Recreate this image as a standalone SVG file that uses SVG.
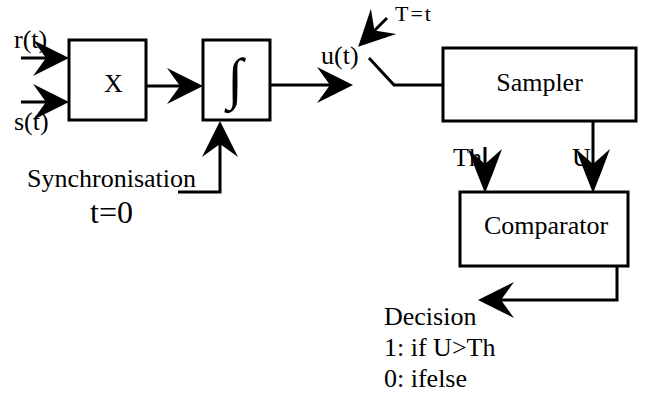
<svg xmlns="http://www.w3.org/2000/svg" width="649" height="397" viewBox="0 0 649 397">
<style>
  .box{fill:#fff;stroke:#000;stroke-width:3}
  .ln{fill:none;stroke:#000;stroke-width:3}
  .t{font-family:"Liberation Serif","Times New Roman",serif;font-size:26px;fill:#000}
</style>
<defs>
  <marker id="ah" markerUnits="userSpaceOnUse" markerWidth="40" markerHeight="40" refX="32" refY="18" orient="auto" overflow="visible">
    <path d="M36,18 Q18,9 0,0 L13,18 L0,36 Q18,27 36,18 Z" fill="#000"/>
  </marker>
  <marker id="ahl" markerUnits="userSpaceOnUse" markerWidth="48" markerHeight="40" refX="40" refY="17" orient="auto" overflow="visible">
    <path d="M44,17 Q22,8 0,0 L15,17 L0,34 Q22,26 44,17 Z" fill="#000"/>
  </marker>
</defs>
<rect width="649" height="397" fill="#fff"/>
<g id="connectors">
  <path class="ln" d="M21,58 H65" marker-end="url(#ah)"/>
  <path class="ln" d="M21,102 H65" marker-end="url(#ah)"/>
  <path class="ln" d="M146,86 H199" marker-end="url(#ah)"/>
  <path class="ln" d="M270,85 H349" marker-end="url(#ah)"/>
  <path class="ln" d="M387,18 L361,44" marker-end="url(#ah)"/>
  <path class="ln" d="M369,58 L394,85 H443"/>
  <path class="ln" d="M178,192 H220 V125" marker-end="url(#ah)"/>
  <path class="ln" d="M593,121 V189" marker-end="url(#ahl)"/>
  <path class="ln" d="M485,147 V189" marker-end="url(#ahl)"/>
  <path class="ln" d="M617,266 V300 H482" marker-end="url(#ah)"/>
</g>
<g id="multiplier">
  <rect class="box" x="69" y="40" width="77" height="80"/>
  <text class="t" x="104" y="92">X</text>
</g>
<g id="integrator">
  <rect class="box" x="203" y="40" width="67" height="80"/>
  <text class="t" x="235" y="98" text-anchor="middle" style="font-size:57px">∫</text>
</g>
<g id="sampler">
  <rect class="box" x="443" y="48" width="193" height="73"/>
  <text class="t" x="539.5" y="91" text-anchor="middle">Sampler</text>
</g>
<g id="comparator">
  <rect class="box" x="460" y="192" width="168" height="74"/>
  <text class="t" x="546" y="234" text-anchor="middle">Comparator</text>
</g>
<g id="labels">
  <text class="t" x="14" y="48">r(t)</text>
  <text class="t" x="14" y="130">s(t)</text>
  <text class="t" x="321" y="64">u(t)</text>
  <text class="t" x="395" y="21" style="font-size:22px;letter-spacing:2px">T=t</text>
  <text class="t" x="453" y="166">Th</text>
  <text class="t" x="572" y="166">U</text>
  <text class="t" x="27" y="187">Synchronisation</text>
  <text class="t" x="90" y="223" style="font-size:32px">t=0</text>
  <text class="t" x="384" y="325">Decision</text>
  <text class="t" x="384" y="356">1: if U&gt;Th</text>
  <text class="t" x="384" y="387">0: ifelse</text>
</g>
</svg>
